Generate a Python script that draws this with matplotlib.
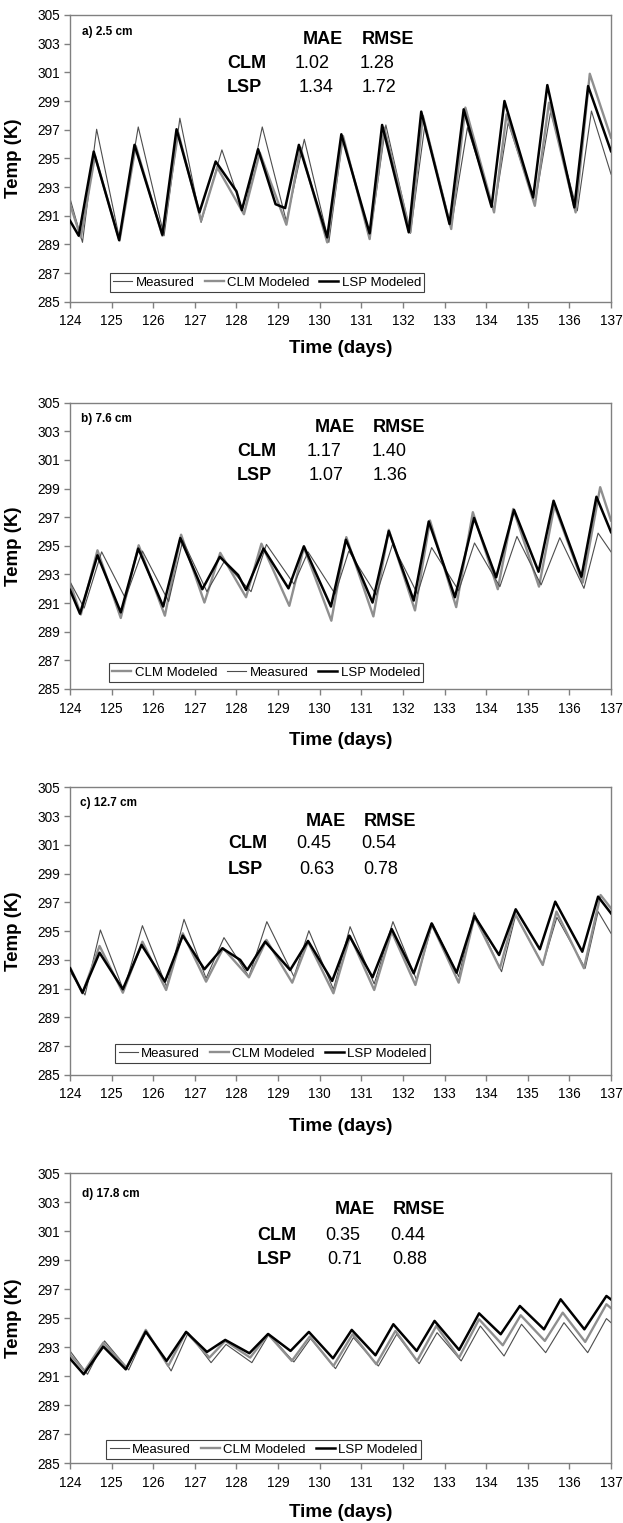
import matplotlib
matplotlib.use("Agg")
import matplotlib.pyplot as plt

plt.rcParams['font.family'] = ['Liberation Sans', 'DejaVu Sans']

# ---- data: daily extremes (time in days, temp in K) ----
# panel a) 2.5 cm
a_meas_t = [124.0, 124.3, 124.64, 125.19, 125.64, 126.26, 126.64, 127.15, 127.65, 128.18, 128.62, 129.2, 129.63,
            130.22, 130.56, 131.2, 131.59, 132.18, 132.53, 133.16, 133.55, 134.19, 134.53, 135.17, 135.55, 136.19,
            136.53, 137.0]
a_meas_T = [292.2, 289.14, 297.03, 289.37, 297.19, 289.6, 297.8, 290.53, 295.59, 291.1, 297.19, 290.6, 296.33,
            289.14, 296.56, 289.37, 297.33, 289.77, 297.38, 290.18, 297.14, 291.34, 297.49, 291.8, 298.26, 291.34,
            298.3, 293.9]
a_clm_t = [124.0, 124.26, 124.6, 125.19, 125.58, 126.22, 126.6, 127.15, 127.54, 128.18, 128.56, 129.2, 129.54,
           130.18, 130.56, 131.2, 131.55, 132.18, 132.48, 133.16, 133.5, 134.19, 134.49, 135.17, 135.51, 136.15,
           136.49, 137.0]
a_clm_T = [291.8, 289.49, 295.17, 289.26, 295.87, 289.6, 296.8, 290.65, 294.36, 291.1, 295.4, 290.37, 295.75,
           289.14, 296.56, 289.37, 297.14, 289.84, 297.96, 290.07, 298.54, 291.23, 298.07, 291.69, 298.88, 291.23,
           300.9, 296.45]
a_lsp_t = [124.0, 124.21, 124.57, 125.18, 125.55, 126.22, 126.56, 127.11, 127.5, 128.0, 128.13, 128.52, 128.94,
           129.17, 129.5, 130.18, 130.52, 131.2, 131.5, 132.14, 132.44, 133.12, 133.46, 134.13, 134.44, 135.13,
           135.47, 136.12, 136.45, 137.0]
a_lsp_T = [290.65, 289.6, 295.47, 289.3, 295.94, 289.67, 297.03, 291.23, 294.78, 292.7, 291.39, 295.64, 291.8,
           291.53, 295.94, 289.49, 296.68, 289.77, 297.33, 289.84, 298.26, 290.42, 298.42, 291.62, 299.0, 292.27,
           300.11, 291.58, 300.04, 295.5]

# panel b) 7.6 cm
b_meas_t = [124.0, 124.34, 124.76, 125.33, 125.74, 126.37, 126.71, 127.29, 127.7, 128.35, 128.72, 129.38, 129.72,
            130.37, 130.7, 131.36, 131.75, 132.35, 132.69, 133.34, 133.72, 134.33, 134.74, 135.32, 135.77, 136.35,
            136.69, 137.0]
b_meas_T = [292.5, 290.65, 294.58, 291.34, 294.64, 291.11, 295.38, 291.8, 293.88, 291.8, 295.1, 292.33, 294.58,
            291.64, 294.64, 291.57, 295.1, 291.64, 294.88, 291.87, 295.2, 292.15, 295.66, 292.27, 295.57, 292.03,
            295.89, 294.58]
b_clm_t = [124.0, 124.26, 124.66, 125.22, 125.65, 126.28, 126.67, 127.23, 127.61, 128.23, 128.6, 129.27, 129.62,
           130.28, 130.64, 131.29, 131.66, 132.29, 132.65, 133.28, 133.68, 134.28, 134.65, 135.27, 135.64, 136.32,
           136.74, 137.0]
b_clm_T = [292.4, 290.2, 294.69, 289.96, 295.04, 290.12, 295.78, 291.04, 294.51, 291.41, 295.15, 290.81, 294.88,
           289.77, 295.61, 290.07, 296.12, 290.49, 296.77, 290.72, 297.35, 291.97, 297.58, 292.15, 297.81, 292.43,
           299.1, 296.77]
b_lsp_t = [124.0, 124.24, 124.66, 125.22, 125.64, 126.24, 126.65, 127.18, 127.6, 128.04, 128.23, 128.65, 129.25,
           129.62, 130.27, 130.63, 131.27, 131.66, 132.26, 132.62, 133.25, 133.71, 134.24, 134.67, 135.26, 135.62,
           136.29, 136.65, 137.0]
b_lsp_T = [291.92, 290.26, 294.34, 290.35, 294.81, 290.76, 295.55, 291.97, 294.23, 292.96, 291.92, 294.81, 292.03,
           294.97, 290.76, 295.43, 291.04, 296.03, 291.18, 296.7, 291.41, 296.95, 292.8, 297.51, 293.19, 298.15,
           292.84, 298.43, 295.96]

# panel c) 12.7 cm
c_meas_t = [124.0, 124.36, 124.73, 125.29, 125.74, 126.32, 126.74, 127.27, 127.7, 128.3, 128.73, 129.38, 129.74,
            130.33, 130.73, 131.31, 131.76, 132.33, 132.71, 133.34, 133.71, 134.37, 134.71, 135.36, 135.7, 136.38,
            136.69, 137.0]
c_meas_T = [292.2, 290.56, 295.08, 290.86, 295.38, 291.14, 295.82, 291.72, 294.55, 291.84, 295.66, 291.84, 295.03,
            290.96, 295.31, 291.33, 295.66, 291.6, 295.54, 291.84, 296.29, 292.18, 296.12, 292.65, 295.96, 292.42,
            296.36, 294.85]
c_clm_t = [124.0, 124.3, 124.71, 125.27, 125.74, 126.31, 126.71, 127.27, 127.68, 128.3, 128.72, 129.34, 129.72,
           130.33, 130.73, 131.31, 131.73, 132.3, 132.69, 133.34, 133.72, 134.33, 134.69, 135.36, 135.69, 136.35,
           136.75, 137.0]
c_clm_T = [292.5, 290.68, 293.97, 290.72, 294.27, 290.91, 294.85, 291.49, 293.81, 291.79, 294.39, 291.42, 294.27,
           290.68, 294.66, 290.91, 294.97, 291.26, 295.5, 291.42, 296.01, 292.42, 296.24, 292.65, 296.36, 292.42,
           297.51, 296.59]
c_lsp_t = [124.0, 124.3, 124.71, 125.27, 125.72, 126.28, 126.71, 127.23, 127.66, 128.09, 128.26, 128.69, 129.29,
           129.72, 130.3, 130.71, 131.27, 131.73, 132.26, 132.69, 133.29, 133.72, 134.31, 134.71, 135.29, 135.66,
           136.31, 136.69, 137.0]
c_lsp_T = [292.42, 290.72, 293.5, 290.96, 294.04, 291.49, 294.69, 292.35, 293.81, 293.0, 292.3, 294.27, 292.3,
           294.32, 291.54, 294.69, 291.79, 295.15, 292.07, 295.54, 292.11, 296.05, 293.34, 296.52, 293.74, 297.05,
           293.57, 297.4, 296.24]

# panel d) 17.8 cm
d_meas_t = [124.0, 124.42, 124.83, 125.41, 125.84, 126.43, 126.84, 127.39, 127.75, 128.37, 128.78, 129.38, 129.78,
            130.38, 130.81, 131.41, 131.85, 132.39, 132.82, 133.4, 133.86, 134.43, 134.85, 135.43, 135.87, 136.44,
            136.89, 137.0]
d_meas_T = [292.75, 291.14, 293.44, 291.44, 294.13, 291.37, 294.01, 291.94, 293.2, 291.94, 293.9, 291.99, 293.6,
            291.53, 293.67, 291.71, 293.9, 291.87, 294.01, 292.06, 294.47, 292.4, 294.59, 292.63, 294.7, 292.63,
            294.98, 294.7]
d_clm_t = [124.0, 124.35, 124.8, 125.36, 125.82, 126.36, 126.79, 127.35, 127.73, 128.33, 128.76, 129.33, 129.76,
           130.33, 130.79, 131.36, 131.82, 132.34, 132.8, 133.35, 133.83, 134.4, 134.83, 135.41, 135.84, 136.38,
           136.89, 137.0]
d_clm_T = [292.5, 291.37, 293.32, 291.6, 294.2, 291.71, 294.06, 292.29, 293.44, 292.29, 293.9, 292.06, 293.74,
           291.71, 293.9, 291.83, 294.13, 292.06, 294.47, 292.29, 294.93, 293.14, 295.21, 293.44, 295.39, 293.37,
           295.97, 295.7]
d_lsp_t = [124.0, 124.33, 124.8, 125.34, 125.82, 126.32, 126.79, 127.29, 127.73, 128.31, 128.76, 129.3, 129.74,
           130.32, 130.77, 131.34, 131.77, 132.33, 132.76, 133.35, 133.83, 134.35, 134.81, 135.39, 135.79, 136.36,
           136.89, 137.0]
d_lsp_T = [292.22, 291.14, 293.05, 291.48, 294.08, 292.06, 294.06, 292.68, 293.51, 292.59, 293.92, 292.75, 294.06,
           292.24, 294.2, 292.45, 294.59, 292.75, 294.82, 292.82, 295.34, 293.9, 295.85, 294.24, 296.31, 294.24,
           296.54, 296.3]

panel_labels = ['a) 2.5 cm', 'b) 7.6 cm', 'c) 12.7 cm', 'd) 17.8 cm']
mae_clm = ['1.02', '1.17', '0.45', '0.35']
rmse_clm = ['1.28', '1.40', '0.54', '0.44']
mae_lsp = ['1.34', '1.07', '0.63', '0.71']
rmse_lsp = ['1.72', '1.36', '0.78', '0.88']
legend_order = [['Measured', 'CLM Modeled', 'LSP Modeled'],
                ['CLM Modeled', 'Measured', 'LSP Modeled'],
                ['Measured', 'CLM Modeled', 'LSP Modeled'],
                ['Measured', 'CLM Modeled', 'LSP Modeled']]

series = [
    {'Measured': (a_meas_t, a_meas_T), 'CLM Modeled': (a_clm_t, a_clm_T), 'LSP Modeled': (a_lsp_t, a_lsp_T)},
    {'Measured': (b_meas_t, b_meas_T), 'CLM Modeled': (b_clm_t, b_clm_T), 'LSP Modeled': (b_lsp_t, b_lsp_T)},
    {'Measured': (c_meas_t, c_meas_T), 'CLM Modeled': (c_clm_t, c_clm_T), 'LSP Modeled': (c_lsp_t, c_lsp_T)},
    {'Measured': (d_meas_t, d_meas_T), 'CLM Modeled': (d_clm_t, d_clm_T), 'LSP Modeled': (d_lsp_t, d_lsp_T)},
]

styles = {'Measured': dict(color='#4d4d4d', lw=0.8),
          'CLM Modeled': dict(color='#8f8f8f', lw=1.7),
          'LSP Modeled': dict(color='black', lw=1.8)}

# ---- layout (pixels) ----
W, H = 623, 1523
tops = [15, 402.7, 787.3, 1173.3]
bottoms = [301.7, 689, 1075, 1463.3]
xlabel_y = [-0.135, -0.15, -0.15, -0.14]
label_dy = [17, 16.3, 15.7, 20.7]
label_x = [82, 81, 80, 82]
# stats block: x of row names, MAE col, RMSE col, header offsets
stat_row_x = [227, 237, 228, 257]
stat_mae_x = [[303, 295, 299], [315, 307, 309], [306, 296, 299], [335, 325, 327]]
stat_rmse_x = [[362, 360, 362], [373, 372, 373], [364, 361, 363], [393, 390, 392]]
stat_dy = [[25, 49, 73], [25.3, 49.3, 73.3], [33.7, 56.7, 81.7], [36.7, 61.7, 85.7]]
legend_anchor = [(0.074, 0.034), (0.072, 0.025), (0.084, 0.042), (0.067, 0.015)]

fig = plt.figure(figsize=(W / 100, H / 100), dpi=100)


def ftext(x, y, s, **kw):
    fig.text(x / W, 1 - y / H, s, va='center', ha='left', **kw)


for i in range(4):
    top, bot = tops[i], bottoms[i]
    ax = fig.add_axes([70 / W, 1 - bot / H, 541 / W, (bot - top) / H])
    lines = {}
    for name in legend_order[i]:
        t, T = series[i][name]
        lines[name], = ax.plot(t, T, label=name, solid_joinstyle='round', **styles[name])
    # keep LSP on top
    lines['LSP Modeled'].set_zorder(3)

    ax.set_xlim(124, 137)
    ax.set_ylim(285, 305)
    ax.set_xticks(range(124, 138))
    ax.set_yticks(range(285, 306, 2))
    for sp in ax.spines.values():
        sp.set_color('#808080')
        sp.set_linewidth(1.0)
    ax.tick_params(direction='out', length=4, width=1, color='#808080', labelsize=9.8, pad=3)
    ax.tick_params(axis='x', pad=5)
    ax.set_ylabel('Temp (K)', fontsize=13.5, fontweight='bold')
    ax.yaxis.set_label_coords(-0.089, 0.5)
    ax.set_xlabel('Time (days)', fontsize=13.5, fontweight='bold')
    ax.xaxis.set_label_coords(0.5, xlabel_y[i])

    leg = ax.legend(loc='lower left', bbox_to_anchor=legend_anchor[i], ncol=3, fontsize=9.5,
                    handlelength=1.45, handletextpad=0.25, columnspacing=0.75, borderpad=0.25,
                    borderaxespad=0, fancybox=False, framealpha=1, edgecolor='#404040')
    leg.get_frame().set_linewidth(0.8)

    ftext(label_x[i], top + label_dy[i], panel_labels[i], fontsize=8.5, fontweight='bold')
    hy, r1, r2 = [top + d for d in stat_dy[i]]
    ftext(stat_mae_x[i][0], hy, 'MAE', fontsize=13, fontweight='bold')
    ftext(stat_rmse_x[i][0], hy, 'RMSE', fontsize=13, fontweight='bold')
    ftext(stat_row_x[i], r1, 'CLM', fontsize=13, fontweight='bold')
    ftext(stat_row_x[i], r2, 'LSP', fontsize=13, fontweight='bold')
    ftext(stat_mae_x[i][1], r1, mae_clm[i], fontsize=13)
    ftext(stat_rmse_x[i][1], r1, rmse_clm[i], fontsize=13)
    ftext(stat_mae_x[i][2], r2, mae_lsp[i], fontsize=13)
    ftext(stat_rmse_x[i][2], r2, rmse_lsp[i], fontsize=13)

fig.savefig('out.png', dpi=100)
